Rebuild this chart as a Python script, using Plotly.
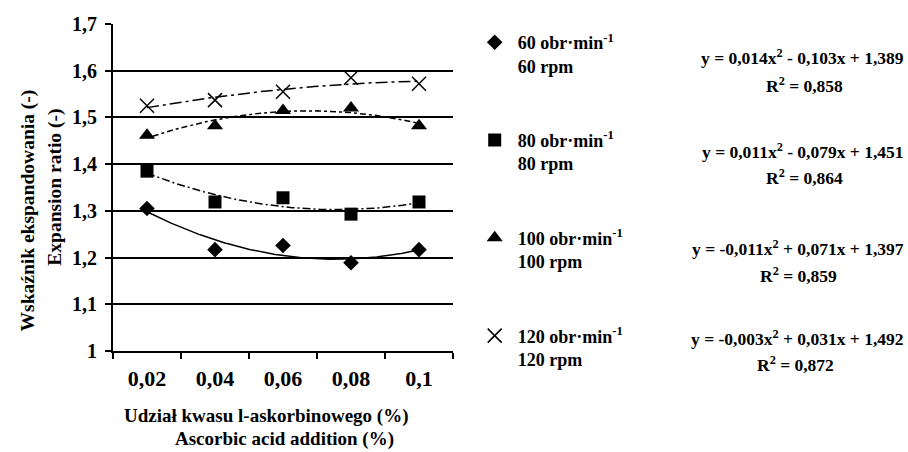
import numpy as np
import plotly.graph_objects as go

# ---- data ----
categories = ["0,02", "0,04", "0,06", "0,08", "0,1"]
cat_index = [1, 2, 3, 4, 5]
rpm60 = [1.305, 1.217, 1.226, 1.189, 1.217]
rpm80 = [1.385, 1.319, 1.328, 1.293, 1.319]
rpm100 = [1.462, 1.482, 1.515, 1.520, 1.482]
rpm120 = [1.525, 1.537, 1.555, 1.585, 1.572]
series_names = ["60 obr·min<sup>-1</sup><br>60 rpm",
                "80 obr·min<sup>-1</sup><br>80 rpm",
                "100 obr·min<sup>-1</sup><br>100 rpm",
                "120 obr·min<sup>-1</sup><br>120 rpm"]
equations = ["y = 0,014x<sup>2</sup> - 0,103x + 1,389",
             "y = 0,011x<sup>2</sup> - 0,079x + 1,451",
             "y = -0,011x<sup>2</sup> + 0,071x + 1,397",
             "y = -0,003x<sup>2</sup> + 0,031x + 1,492"]
r_squared = ["0,858", "0,864", "0,859", "0,872"]
y_ticks = [1.0, 1.1, 1.2, 1.3, 1.4, 1.5, 1.6, 1.7]

FONT = "Liberation Serif"
series = [rpm60, rpm80, rpm100, rpm120]
symbols = ["diamond", "square", "triangle-up", "x-thin-open"]
sizes = [12, 13, 14, 14]
dashes = ["solid", "8px,3px,2px,3px", "3px,3px,6px,3px", "12px,4px,3px,4px"]

fig = go.Figure()

# trendlines (2nd-order polynomial fits, on a hidden numeric x axis)
xs = np.linspace(1, 5, 200)
for vals, dash in zip(series, dashes):
    coef = np.polyfit(cat_index, vals, 2)
    fig.add_trace(go.Scatter(x=xs - 1, y=np.polyval(coef, xs), mode="lines",
                             line=dict(color="black", width=1.5, dash=dash),
                             xaxis="x2", showlegend=False, hoverinfo="skip"))

for i, (vals, name) in enumerate(zip(series, series_names)):
    mk = dict(symbol=symbols[i], size=sizes[i], color="black")
    if symbols[i] == "x-thin-open":
        mk["line"] = dict(width=1.5, color="black")
    fig.add_trace(go.Scatter(x=categories, y=vals, mode="markers", name=name,
                             marker=mk, legendgroup=str(i)))

# equations and R^2
eq_y = [0.899, 0.612, 0.315, 0.040]
r2_y = [0.813, 0.532, 0.232, -0.040]
r2_x = [2.035, 2.035, 2.015, 2.006]
for eq, r2, yy, ry, rx in zip(equations, r_squared, eq_y, r2_y, r2_x):
    fig.add_annotation(text=eq, xref="paper", yref="paper", x=2.332, y=yy,
                       xanchor="right", yanchor="middle",
                       showarrow=False, font=dict(family=FONT, size=17.5, color="black"))
    fig.add_annotation(text="R<sup>2</sup> = " + r2, xref="paper", yref="paper", x=rx, y=ry,
                       xanchor="center", yanchor="middle",
                       showarrow=False, font=dict(family=FONT, size=17.5, color="black"))

# axis titles
fig.add_annotation(text="<b>Wskaźnik ekspandowania (-)</b>", textangle=-90,
                   xref="paper", yref="paper", x=-0.25, y=0.43, xanchor="center", yanchor="middle",
                   showarrow=False, font=dict(family=FONT, size=19.5, color="black"))
fig.add_annotation(text="<b>Expansion ratio (-)</b>", textangle=-90,
                   xref="paper", yref="paper", x=-0.173, y=0.50, xanchor="center", yanchor="middle",
                   showarrow=False, font=dict(family=FONT, size=19.5, color="black"))
fig.add_annotation(text="<b>Udział kwasu l-askorbinowego (%)</b>",
                   xref="paper", yref="paper", x=0.45, y=-0.199, xanchor="center", yanchor="middle",
                   showarrow=False, font=dict(family=FONT, size=19, color="black"))
fig.add_annotation(text="<b>Ascorbic acid addition (%)</b>",
                   xref="paper", yref="paper", x=0.505, y=-0.269, xanchor="center", yanchor="middle",
                   showarrow=False, font=dict(family=FONT, size=19, color="black"))

fig.update_layout(
    width=908, height=452,
    margin=dict(l=113, r=455, t=24, b=101),
    paper_bgcolor="white", plot_bgcolor="white",
    separators=", ",
    font=dict(family=FONT, size=19, color="black", weight="bold"),
    xaxis=dict(type="category", range=[-0.5, 4.5], tickson="boundaries",
               ticks="outside", ticklen=6, tickwidth=2, tickcolor="black",
               showline=True, linecolor="black", linewidth=2, showgrid=False,
               tickfont=dict(family=FONT, size=22, weight="bold"), ticklabelstandoff=7),
    xaxis2=dict(overlaying="x", range=[-0.5, 4.5], visible=False),
    yaxis=dict(range=[1.0, 1.7], tickvals=y_ticks, ticks="outside", ticklen=6,
               tickwidth=2, tickcolor="black",
               showline=True, linecolor="black", linewidth=2,
               showgrid=True, gridcolor="black", gridwidth=2, zeroline=False,
               tickfont=dict(family=FONT, size=20, weight="bold"), ticklabelstandoff=4),
    legend=dict(x=1.055, y=1.0, xanchor="left", yanchor="top", valign="top",
                tracegroupgap=48, maxheight=440, itemwidth=36,
                font=dict(family=FONT, size=18, weight="bold"),
                bgcolor="rgba(0,0,0,0)"),
    showlegend=True,
)

fig.write_html("out.html")
